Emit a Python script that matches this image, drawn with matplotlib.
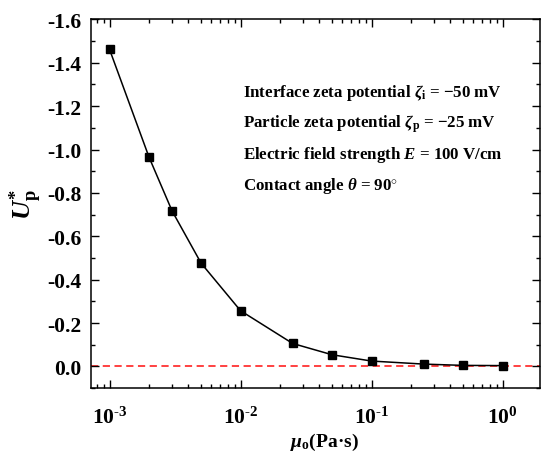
import matplotlib
matplotlib.use("Agg")
from matplotlib import pyplot as plt
from matplotlib.ticker import MultipleLocator, LogLocator, NullFormatter, FuncFormatter
import numpy as np

# 字体设置: Times 风格的粗体
plt.rcParams['font.family'] = ['Liberation Serif', 'DejaVu Serif']
plt.rcParams['font.weight'] = 'bold'
plt.rcParams['mathtext.fontset'] = 'custom'
plt.rcParams['mathtext.rm'] = 'Liberation Serif:bold'
plt.rcParams['mathtext.bf'] = 'Liberation Serif:bold'
plt.rcParams['mathtext.it'] = 'Liberation Serif:italic:bold'
plt.rcParams['axes.unicode_minus'] = False

# 数据
mu_o = [1e-3, 2e-3, 3e-3, 5e-3, 1e-2, 2.5e-2, 5e-2, 1e-1, 2.5e-1, 5e-1, 1.0]
U_p = [-1.461, -0.965, -0.717, -0.476, -0.257, -0.106, -0.054, -0.025, -0.011, -0.005, -0.004]

notes = [
    r'Interface zeta potential $\zeta_{\mathrm{i}}$ = −50 mV',
    r'Particle zeta potential $\zeta_{\mathrm{p}}$ = −25 mV',
    r'Electric field strength $E$ = 100 V/cm',
    r'Contact angle $\theta$ = 90$^{\circ}$',
]

fig = plt.figure(figsize=(5.41, 4.52), dpi=100)
ax = fig.add_axes([0.168, 0.139, 0.830, 0.816])

ax.axhline(0, color='#ff3333', lw=1.3, dashes=(4, 2.5), zorder=1)
ax.plot(mu_o, U_p, color='black', lw=1.1, marker='s', markersize=6, zorder=3)

ax.set_xscale('log')
ax.set_xlim(7.2e-4, 1.93)
ax.set_ylim(0.1, -1.6)


def log_fmt(v, pos):
    e = int(round(np.log10(v)))
    s = str(e).replace('-', r'\text{-}')
    return r'$\mathrm{10}^{%s}$' % s


ax.yaxis.set_major_locator(MultipleLocator(0.2))
ax.yaxis.set_minor_locator(MultipleLocator(0.1))
ax.yaxis.set_major_formatter(matplotlib.ticker.FormatStrFormatter('%.1f'))
ax.xaxis.set_major_locator(LogLocator(base=10, numticks=10))
ax.xaxis.set_minor_locator(LogLocator(base=10, subs=range(2, 10), numticks=10))
ax.xaxis.set_major_formatter(FuncFormatter(log_fmt))
ax.xaxis.set_minor_formatter(NullFormatter())

ax.tick_params(which='both', direction='in', top=True, right=True, width=1.0,
               labelsize=15.5)
ax.tick_params(which='major', length=6)
ax.tick_params(which='minor', length=3)
ax.tick_params(axis='x', pad=13)
ax.tick_params(axis='y', pad=7)
for s in ax.spines.values():
    s.set_linewidth(1.1)
for lab in ax.get_xticklabels() + ax.get_yticklabels():
    lab.set_fontweight('bold')

ax.set_xlabel(r'$\mu_{\mathrm{o}}$(Pa·s)', fontsize=14, fontweight='bold')
ax.xaxis.set_label_coords(0.52, -0.115)
ax.set_ylabel(r'$U^{*}_{\mathrm{p}}$', fontsize=19, fontweight='bold')
ax.yaxis.set_label_coords(-0.105, 0.5)

# 标注参数
for i, t in enumerate(notes):
    fig.text(243 / 541, 1 - (93 + 31 * i) / 452, t, fontsize=12.2,
             fontweight='bold', va='center', ha='left')

fig.savefig('out.png', dpi=100)
